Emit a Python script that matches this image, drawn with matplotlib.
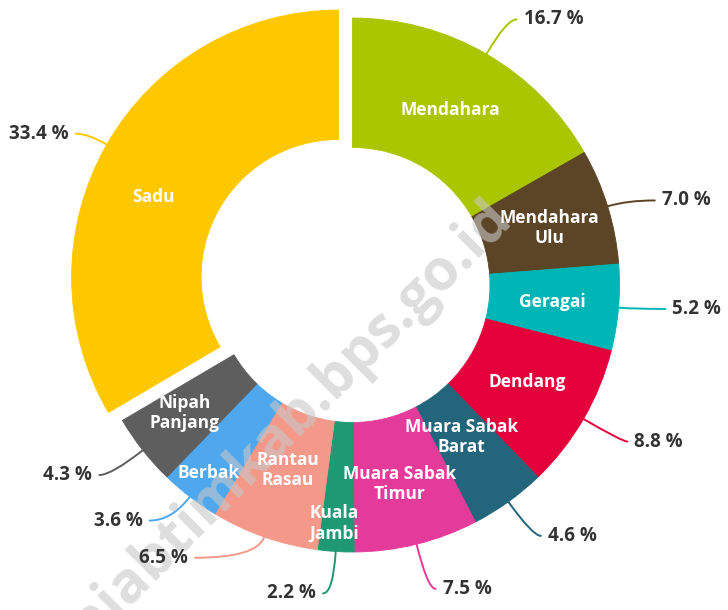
import numpy as np
import matplotlib
matplotlib.use("Agg")
import matplotlib.pyplot as plt
from matplotlib.path import Path
from matplotlib.patches import PathPatch

# ---------------- data ----------------
categories = ["Mendahara", "Mendahara Ulu", "Geragai", "Dendang",
              "Muara Sabak Barat", "Muara Sabak Timur", "Kuala Jambi",
              "Rantau Rasau", "Berbak", "Nipah Panjang", "Sadu"]
wedge_labels = ["Mendahara", "Mendahara\nUlu", "Geragai", "Dendang",
                "Muara Sabak\nBarat", "Muara Sabak\nTimur", "Kuala\nJambi",
                "Rantau\nRasau", "Berbak", "Nipah\nPanjang", "Sadu"]
shares = [16.7, 7.0, 5.2, 8.8, 4.6, 7.5, 2.2, 6.5, 3.6, 4.3, 33.4]
colors = ["#a9c600", "#5c4426", "#00b5b5", "#e4003a", "#23657a",
          "#e43a9a", "#1f9973", "#f4998a", "#4fa8ee", "#5e5e5e", "#fdc800"]
watermark = "https://tanjabtimkab.bps.go.id"

# ---------------- layout ----------------
W, H = 728, 610
CX, CY = 352.5, 285.0      # pie centre in pixels (y down)
R = 267.0                  # outer radius in pixels
RIN = 137.5                # inner radius in pixels

# per-label layout: (label radius px, angle nudge deg, leader radial px, leader horizontal px)
layout = {
    "Mendahara":         (200, 1.0, 40, 10),
    "Mendahara Ulu":     (205, -1.0, 20, 28),
    "Geragai":           (201, 0.0, 15, 32),
    "Dendang":           (200, 1.0, 45, 5),
    "Muara Sabak Barat": (187, 0.0, 42, 8),
    "Muara Sabak Timur": (205, -0.5, 46, 8),
    "Kuala Jambi":       (239, -0.8, 42, 10),
    "Rantau Rasau":      (196, 0.0, 22, 62),
    "Berbak":            (237, 0.0, 30, 22),
    "Nipah Panjang":     (211, -0.8, 40, 12),
    "Sadu":              (202, 6.5, 22, 12),
}
explode = [16.0 / R if c == "Sadu" else 0.0 for c in categories]

fig = plt.figure(figsize=(W / 100, H / 100), dpi=100)
fig.patch.set_facecolor("white")
ax = fig.add_axes([0, 0, 1, 1])

wedges, _ = ax.pie(shares, colors=colors, startangle=90, counterclock=False,
                   radius=1.0, explode=explode,
                   wedgeprops=dict(width=(R - RIN) / R, linewidth=0.6))
for w in wedges:
    w.set_edgecolor(w.get_facecolor())

ax.set_xlim(-CX / R, (W - CX) / R)
ax.set_ylim(-(H - CY) / R, CY / R)
ax.set_aspect("equal")
ax.axis("off")

px = 1.0 / R
label_font = dict(family=["Open Sans", "DejaVu Sans"], fontweight="bold",
                  fontsize=12.5, color="white")
pct_font = dict(family=["Open Sans", "DejaVu Sans"], fontweight="bold",
                fontsize=13.5, color="#333333")

for cat, lab, val, w in zip(categories, wedge_labels, shares, wedges):
    lr, nudge, l1, l2 = layout[cat]
    cx, cy = w.center
    mid = np.deg2rad((w.theta1 + w.theta2) / 2.0)
    # label inside wedge
    a = mid + np.deg2rad(nudge)
    ax.text(cx + lr * px * np.cos(a), cy + lr * px * np.sin(a), lab,
            ha="center", va="center", linespacing=1.15, zorder=6, **label_font)
    # leader line
    u = np.array([np.cos(mid), np.sin(mid)])
    p0 = np.array([cx, cy]) + u * 1.0
    p1 = p0 + u * l1 * px
    side = 1.0 if u[0] >= 0 else -1.0
    p2 = p1 + np.array([side * l2 * px, 0.0])
    path = Path([p0, p1, p2], [Path.MOVETO, Path.CURVE3, Path.CURVE3])
    ax.add_patch(PathPatch(path, facecolor="none", edgecolor=w.get_facecolor(),
                           linewidth=1.4, zorder=4, capstyle="round"))
    ax.text(p2[0] + side * 7 * px, p2[1], f"{val:.1f} %",
            ha="left" if side > 0 else "right", va="center", zorder=6, **pct_font)

# watermark
ex, ey = (513 - CX) / R, (CY - 219) / R
ax.text(ex, ey, watermark, rotation=45, rotation_mode="anchor",
        ha="right", va="baseline", fontsize=41, fontweight="bold",
        family=["Open Sans", "DejaVu Sans"], color="#c8c8c8", alpha=0.6, zorder=5)

fig.savefig("out.png", dpi=100, facecolor="white")
